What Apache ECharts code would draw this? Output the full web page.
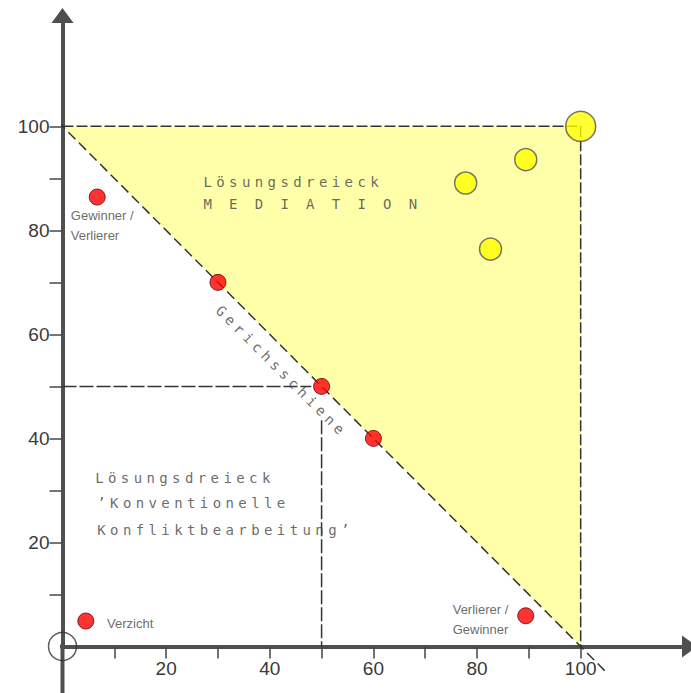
<!DOCTYPE html>
<html>
<head>
<meta charset="utf-8">
<script src="https://cdn.jsdelivr.net/npm/echarts@6/dist/echarts.min.js"></script>
<style>
html,body{margin:0;padding:0;background:#ffffff;}
#chart{width:691px;height:693px;}
</style>
</head>
<body>
<div id="chart"></div>
<script>
// ---- data ----
const xTickValues = [10, 20, 30, 40, 50, 60, 70, 80, 90, 100];
const xLabelValues = [20, 40, 60, 80, 100];
const yTickValues = [10, 20, 30, 40, 50, 60, 70, 80, 90, 100];
const yLabelValues = [20, 40, 60, 80, 100];

// axis extensions beyond the origin
const xAxisTail = [[-10, 0], [0, 0]];
const yAxisTail = [[0, -9], [0, 0]];

const triangle = [[0, 100], [100, 100], [100, 0]];
const triangleTop = [[0, 100], [100, 100]];
const triangleRight = [[100, 100], [100, 0]];
const diagonal = [[-5, 105], [105, -5]];
const guideH = [[0, 50], [48, 50]];
const guideV = [[50, 43.5], [50, 0]];

const redPoints = [[6.7, 86.4], [30, 70], [50, 50], [60, 40], [4.5, 4.9], [89.4, 5.9]];
const yellowPoints = [[77.8, 89.1], [89.4, 93.6], [82.6, 76.4]];
const bigPoint = [[100, 100]];
const originMark = [[0, 0]];

// small annotation texts: [x, y, text]
const smallNotes = [
  [1.6, 81.0, 'Gewinner /\nVerlierer'],
  [8.6, 4.4, 'Verzicht'],
  [75.3, 5.1, 'Verlierer /\nGewinner']
];
// technical-font texts: [x, y, text]
const techNotes = [
  [27.2, 89.2, 'Lösungsdreieck'],
  [27.2, 85.1, 'M E D I A T I O N'],
  [6.3, 32.3, 'Lösungsdreieck'],
  [6.7, 27.5, '’Konventionelle'],
  [6.7, 22.3, 'Konfliktbearbeitung’']
];
const railNote = [[42.3, 52.9, 'Gerichsschiene']];

// ---- chart ----
const chart = echarts.init(document.getElementById('chart'), null, { renderer: 'svg' });

const axisColor = '#4f4f4f';
const labelFont = { fontFamily: 'Liberation Sans, Arial, sans-serif', fontSize: 19, color: '#3a3a3a' };
const techFont = 'DejaVu Sans Mono, monospace';

function dashedLine(data, dash) {
  return {
    type: 'line', data: data, symbol: 'none', silent: true, z: 1, clip: false,
    lineStyle: { color: '#333333', width: 1.5, type: dash }
  };
}
function axisTail(data) {
  return {
    type: 'line', data: data, symbol: 'none', silent: true, z: 0, clip: false,
    lineStyle: { color: axisColor, width: 4, cap: 'butt' }
  };
}

const option = {
  animation: false,
  backgroundColor: '#ffffff',
  grid: { left: 62.5, right: 1.5, top: 15.5, bottom: 46.5, containLabel: false, outerBoundsMode: 'none' },
  xAxis: {
    type: 'value', min: 0, max: 121,
    splitLine: { show: false },
    axisLine: { onZero: false, symbol: ['none', 'triangle'], symbolSize: [22, 15],
      lineStyle: { color: axisColor, width: 4 } },
    axisTick: { customValues: xTickValues, length: 12, lineStyle: { color: '#444', width: 1.5 } },
    axisLabel: Object.assign({ customValues: xLabelValues, margin: 12 }, labelFont)
  },
  yAxis: {
    type: 'value', min: 0, max: 121.3,
    splitLine: { show: false },
    axisLine: { onZero: false, symbol: ['none', 'triangle'], symbolSize: [22, 15],
      lineStyle: { color: axisColor, width: 4 } },
    axisTick: { customValues: yTickValues, length: 13, lineStyle: { color: '#444', width: 1.5 } },
    axisLabel: Object.assign({ customValues: yLabelValues, margin: 13 }, labelFont)
  },
  series: [
    {
      type: 'custom', silent: true, z: -1, clip: false,
      data: triangle,
      renderItem: function (params, api) {
        if (params.dataIndex !== 0) return null;
        const pts = triangle.map(function (p) { return api.coord(p); });
        return { type: 'polygon', shape: { points: pts }, style: { fill: '#ffffaa', stroke: null } };
      }
    },
    axisTail(xAxisTail),
    axisTail(yAxisTail),
    dashedLine(triangleTop, [11, 3]),
    dashedLine(triangleRight, [11, 3]),
    dashedLine(diagonal, [10, 5]),
    dashedLine(guideH, [14, 3]),
    dashedLine(guideV, [14, 3]),
    {
      type: 'scatter', data: originMark, symbolSize: 28, silent: true, z: 3, clip: false,
      itemStyle: { color: 'rgba(0,0,0,0)', borderColor: '#333', borderWidth: 1.5 }
    },
    {
      type: 'scatter', data: redPoints, symbolSize: 16, silent: true, z: 4, clip: false,
      itemStyle: { color: '#ff0000', borderColor: '#6a0000', borderWidth: 1 }
    },
    {
      type: 'scatter', data: yellowPoints, symbolSize: 22, silent: true, z: 4, clip: false,
      itemStyle: { color: '#ffff00', borderColor: '#555', borderWidth: 1.5 }
    },
    {
      type: 'scatter', data: bigPoint, symbolSize: 30, silent: true, z: 4, clip: false,
      itemStyle: { color: '#ffff00', borderColor: '#555', borderWidth: 1.5 }
    },
    {
      type: 'scatter', silent: true, symbolSize: 0, z: 5, clip: false,
      data: smallNotes.map(function (n) { return { name: n[2], value: [n[0], n[1]] }; }),
      label: { show: true, position: 'right', distance: 0, formatter: '{b}', align: 'left',
        fontFamily: 'Liberation Sans, Arial, sans-serif', fontSize: 13, lineHeight: 20, color: '#444' }
    },
    {
      type: 'scatter', silent: true, symbolSize: 0, z: 5, clip: false,
      data: techNotes.map(function (n) { return { name: n[2], value: [n[0], n[1]] }; }),
      label: { show: true, position: 'right', distance: 0, formatter: '{b}', align: 'left',
        fontFamily: techFont, fontSize: 14, color: '#444' }
    },
    {
      type: 'scatter', silent: true, symbolSize: 0, z: 5, clip: false,
      data: railNote.map(function (n) { return { name: n[2], value: [n[0], n[1]] }; }),
      label: { show: true, position: 'inside', formatter: '{b}', rotate: -45, align: 'center',
        fontFamily: techFont, fontSize: 14, color: '#444' }
    }
  ]
};

chart.setOption(option);

const spacedTexts = techNotes.map(function (n) { return n[2]; }).concat(railNote.map(function (n) { return n[2]; }));
function applySpacing() {
  document.querySelectorAll('#chart svg text').forEach(function (t) {
    const s = (t.textContent || '').trim();
    if (spacedTexts.indexOf(s) >= 0) {
      t.style.letterSpacing = '4.4px';
    }
  });
}
applySpacing();
chart.on('finished', applySpacing);
</script>
</body>
</html>
